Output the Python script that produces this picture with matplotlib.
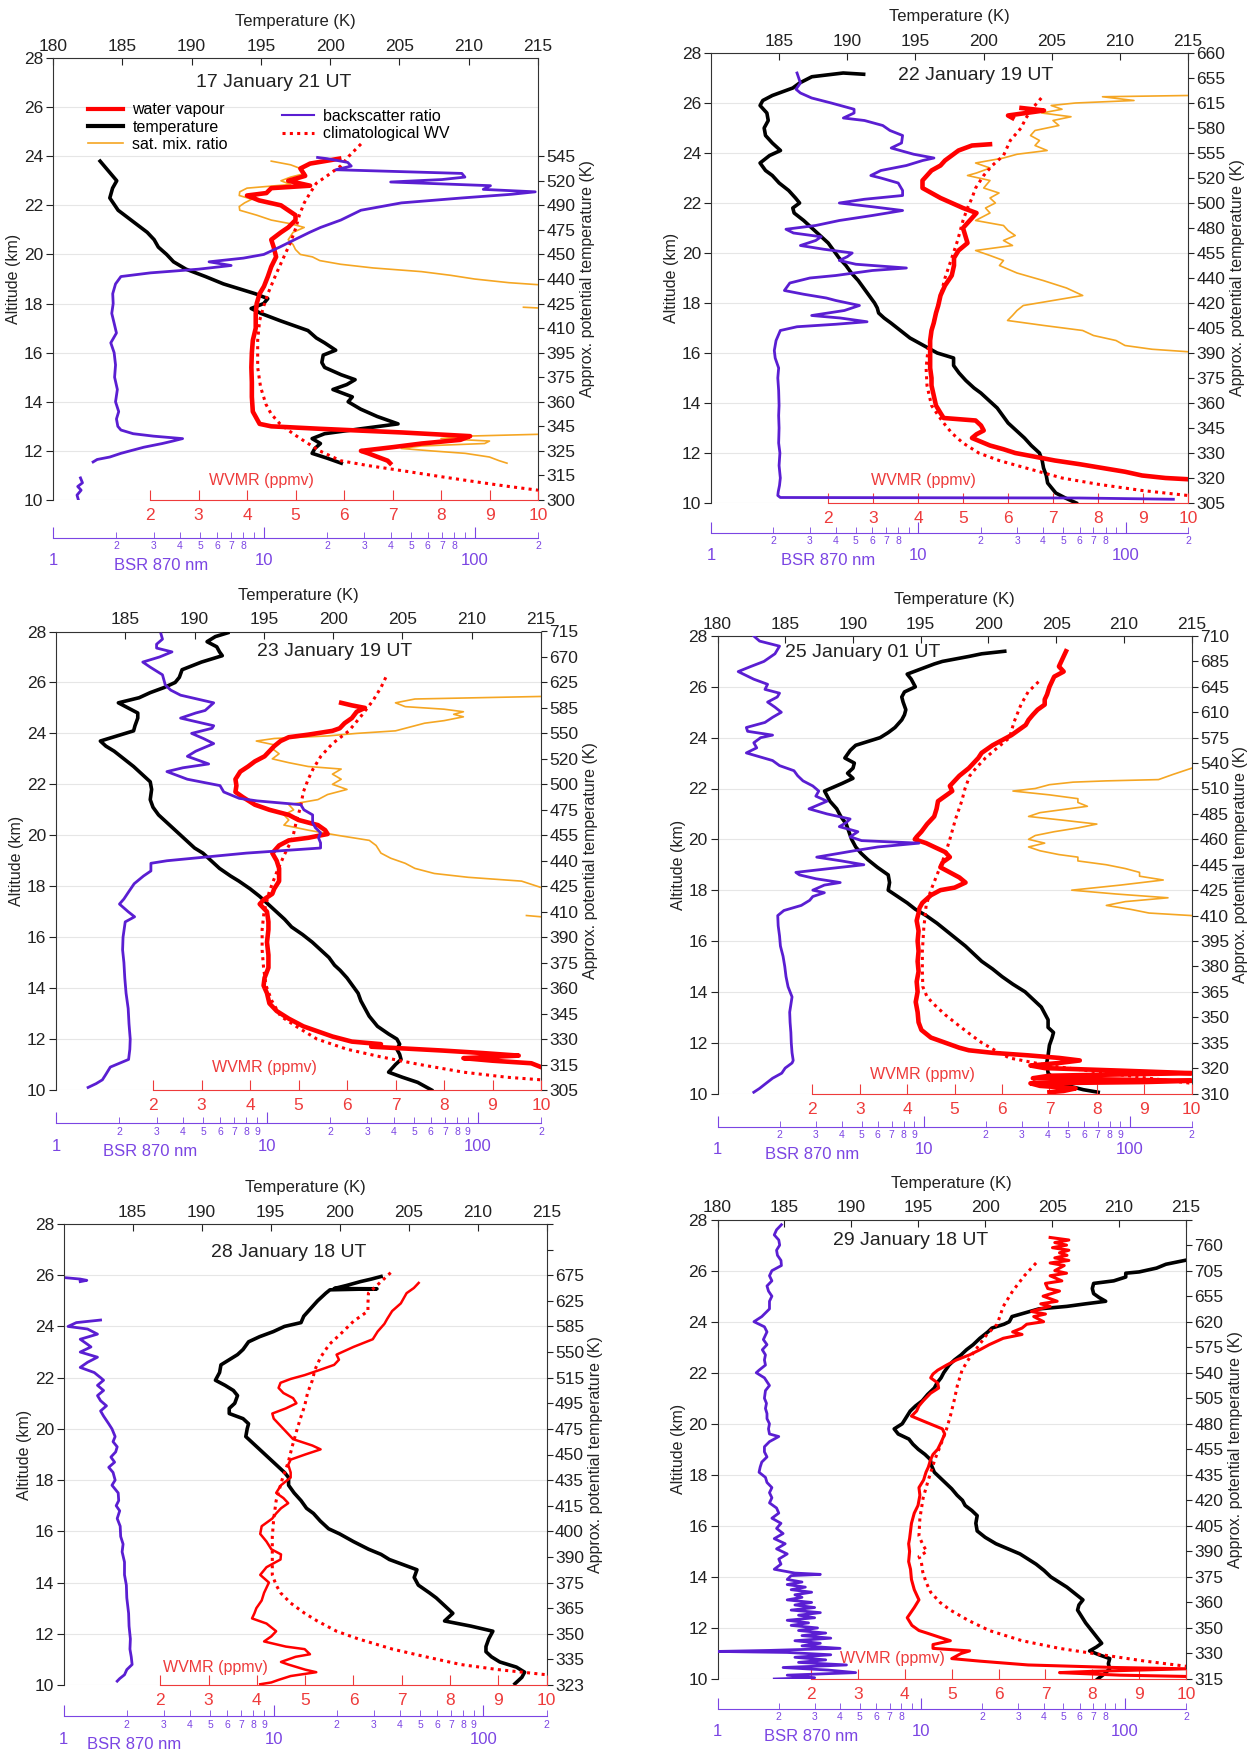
import matplotlib.pyplot as plt
from matplotlib.lines import Line2D

plt.rcParams['font.family'] = ['Liberation Sans', 'DejaVu Sans']

NA = float('nan')

# Colour palette
C_WV = '#FF0000'
C_T = '#000000'
C_SAT = '#F5A623'
C_BSR = '#5A1ED2'
C_BSR_AX = '#7B45E3'
C_WV_AX = '#EE3B3B'
C_TEXT = '#222222'
C_GRID = '#E6E6E6'

# ---------------- data: (altitude km, value) ----------------
# 17 January 21 UT
p1_temp = [(23.8, 183.4), (23.4, 184.0), (23.0, 184.6), (22.7, 184.3), (22.3, 184.1), (21.8, 184.7),
           (21.5, 185.4), (21.2, 186.1), (20.9, 186.8), (20.6, 187.3), (20.3, 187.6), (20.0, 188.2),
           (19.7, 188.7), (19.4, 189.6), (19.1, 191.0), (18.8, 192.3), (18.4, 194.6), (18.2, 195.5),
           (18.0, 195.2), (17.8, 194.3), (17.6, 195.0), (17.3, 196.4), (16.9, 198.4), (16.6, 199.0),
           (16.4, 199.6), (16.1, 200.4), (15.9, 199.5), (15.6, 199.4), (15.4, 199.6), (15.1, 200.8),
           (14.9, 201.8), (14.7, 201.2), (14.5, 200.2), (14.2, 201.6), (14.0, 201.3), (13.7, 202.2),
           (13.4, 203.4), (13.1, 204.9), (12.9, 202.2), (12.7, 199.6), (12.5, 198.7), (12.3, 199.3),
           (12.1, 198.9), (11.9, 198.7), (11.7, 199.8), (11.5, 200.8)]
p1_wv = [(23.9, 5.9), (23.7, 5.3), (23.5, 5.1), (23.2, 5.2), (23.0, 4.85), (22.8, 5.3), (22.7, 4.5),
         (22.5, 4.4), (22.4, 4.0), (22.2, 4.25), (22.0, 4.7), (21.8, 4.85), (21.6, 5.0), (21.4, 5.0),
         (21.1, 4.85), (20.9, 4.7), (20.6, 4.5), (20.3, 4.55), (19.9, 4.6), (19.5, 4.5), (19.1, 4.43),
         (18.7, 4.35), (18.4, 4.26), (18.0, 4.2), (17.6, 4.18), (17.0, 4.18), (16.5, 4.12), (16.0, 4.1),
         (15.4, 4.09), (14.8, 4.1), (14.2, 4.1), (13.6, 4.12), (13.1, 4.26), (13.0, 4.5), (12.9, 5.5),
         (12.75, 7.2), (12.6, 8.6), (12.45, 8.4), (12.3, 7.6), (12.15, 7.0), (12.0, 6.35), (11.9, 6.5),
         (11.75, 6.7), (11.6, 6.9), (11.5, 6.95)]
p1_clim = [(24.5, 6.35), (24.0, 6.1), (23.6, 5.93), (23.2, 5.65), (22.9, 5.43), (22.5, 5.3), (22.1, 5.18),
           (21.6, 5.08), (21.1, 5.01), (20.5, 4.9), (19.9, 4.76), (19.2, 4.6), (18.4, 4.43), (17.8, 4.33),
           (17.3, 4.26), (16.5, 4.22), (15.4, 4.22), (14.6, 4.28), (13.9, 4.39), (13.5, 4.5), (13.1, 4.68),
           (12.7, 4.95), (12.4, 5.18), (12.0, 5.5), (11.6, 5.93), (11.4, 6.5), (11.2, 7.18), (10.95, 8.0),
           (10.7, 8.86), (10.55, 9.4), (10.4, 10.0)]
p1_sat = [(23.8, 4.5), (23.65, 4.9), (23.5, 5.1), (23.3, 5.2), (23.15, 4.9), (23.0, 4.7), (22.85, 4.9),
          (22.7, 4.0), (22.55, 3.85), (22.4, 3.84), (22.25, 4.1), (22.1, 3.95), (21.95, 3.84), (21.8, 3.85),
          (21.6, 4.2), (21.4, 4.5), (21.25, 4.9), (21.1, 5.18), (20.9, 4.95), (20.6, 4.85), (20.4, 4.95),
          (20.2, 5.0), (20.0, 5.1), (19.9, 5.35), (19.75, 5.5), (19.6, 5.93), (19.45, 6.6), (19.3, 7.6),
          (19.15, 8.2), (19.0, 8.69), (18.85, 9.4), (18.7, 10.5), (NA, NA), (17.85, 9.7), (17.8, 10.2),
          (NA, NA), (12.7, 10.5), (12.6, 8.5), (12.5, 8.0), (12.4, 9.0), (12.3, 8.9), (12.2, 7.6),
          (12.1, 7.18), (12.0, 7.8), (11.9, 8.5), (11.75, 9.0), (11.6, 9.2), (11.5, 9.36)]
p1_bsr = [(10.0, 1.32), (10.2, 1.30), (10.4, 1.36), (10.55, 1.31), (10.7, 1.38), (10.9, 1.35), (NA, NA),
          (11.55, 1.55), (11.65, 1.62), (11.75, 1.86), (11.9, 2.1), (12.0, 2.32), (12.15, 2.7), (12.3, 3.3),
          (12.4, 3.7), (12.5, 4.12), (12.6, 3.0), (12.7, 2.4), (12.85, 2.1), (13.0, 2.03), (13.3, 2.0),
          (13.6, 2.05), (14.0, 1.98), (14.5, 2.02), (15.0, 1.96), (15.5, 1.98), (16.0, 1.95), (16.4, 1.88),
          (16.8, 2.0), (17.2, 1.95), (17.6, 1.9), (18.0, 1.93), (18.4, 1.92), (18.8, 1.98), (19.1, 2.1),
          (19.25, 2.9), (19.4, 4.9), (19.55, 7.0), (19.7, 5.5), (19.85, 8.0), (20.0, 10.0), (20.3, 11.9),
          (20.6, 14.0), (20.9, 16.5), (21.1, 18.6), (21.4, 23.2), (21.8, 28.9), (22.1, 45), (22.3, 87),
          (22.45, 150), (22.55, 194), (22.65, 110), (22.8, 119), (22.95, 40), (23.05, 70), (23.15, 90),
          (23.3, 87), (23.45, 22), (23.6, 26), (23.75, 25), (23.9, 20), (23.95, 18)]

# 22 January 19 UT
p2_temp = [(27.15, 191.2), (27.2, 189.7), (27.05, 187.4), (26.8, 186.5), (26.6, 186.0), (26.3, 184.5),
           (26.1, 183.8), (25.9, 183.6), (25.6, 184.1), (25.3, 184.2), (25.0, 183.9), (24.7, 184.0),
           (24.4, 184.5), (24.1, 185.1), (23.9, 184.3), (23.6, 183.6), (23.3, 184.0), (23.1, 184.5),
           (22.8, 185.0), (22.5, 185.7), (22.2, 186.2), (22.0, 186.5), (21.8, 186.0), (21.6, 186.1),
           (21.3, 186.8), (21.0, 187.4), (20.7, 188.0), (20.4, 188.6), (20.1, 189.0), (19.8, 189.4),
           (19.5, 189.9), (19.2, 190.3), (18.9, 190.8), (18.6, 191.2), (18.3, 191.6), (18.0, 192.0),
           (17.8, 192.2), (17.6, 192.3), (17.4, 192.7), (17.2, 193.2), (16.9, 193.9), (16.6, 194.6),
           (16.3, 195.6), (16.0, 196.6), (15.8, 197.8), (15.5, 197.8), (15.2, 198.2), (14.9, 198.7),
           (14.6, 199.3), (14.4, 199.8), (14.1, 200.4), (13.8, 201.0), (13.5, 201.4), (13.2, 201.8),
           (12.9, 202.4), (12.6, 203.0), (12.3, 203.5), (12.0, 204.1), (11.7, 204.3), (11.4, 204.4),
           (11.1, 204.6), (10.8, 204.7), (10.6, 205.0), (10.4, 205.3), (10.2, 206.0), (10.0, 206.8)]
p2_wv = [(25.8, 6.3), (25.7, 6.8), (25.6, 6.4), (25.5, 6.0), (25.4, 6.1), (NA, NA), (24.35, 5.6),
         (24.3, 5.2), (24.1, 4.9), (23.9, 4.75), (23.7, 4.6), (23.5, 4.5), (23.3, 4.3), (23.1, 4.2),
         (22.9, 4.1), (22.6, 4.1), (22.4, 4.3), (22.2, 4.5), (22.0, 4.75), (21.8, 5.0), (21.6, 5.3),
         (21.4, 5.2), (21.2, 5.1), (21.0, 5.0), (20.7, 5.05), (20.4, 5.1), (20.1, 4.9), (19.8, 4.8),
         (19.5, 4.8), (19.1, 4.75), (18.7, 4.6), (18.3, 4.5), (17.9, 4.45), (17.6, 4.4), (17.2, 4.35),
         (16.9, 4.3), (16.5, 4.27), (16.1, 4.27), (15.7, 4.27), (15.4, 4.27), (15.0, 4.3), (14.7, 4.3),
         (14.3, 4.35), (13.9, 4.4), (13.6, 4.5), (13.4, 4.57), (13.3, 5.28), (13.1, 5.4), (12.9, 5.46),
         (12.75, 5.3), (12.6, 5.2), (12.45, 5.4), (12.3, 5.6), (12.15, 5.9), (12.0, 6.16), (11.85, 6.6),
         (11.7, 7.04), (11.55, 7.6), (11.4, 8.1), (11.25, 8.6), (11.1, 8.98), (11.0, 9.5), (10.95, 10.0)]
p2_clim = [(26.2, 6.74), (25.8, 6.55), (25.4, 6.4), (25.0, 6.29), (24.5, 6.05), (23.9, 5.9), (23.5, 5.65),
           (23.1, 5.46), (22.6, 5.28), (22.2, 5.2), (21.8, 5.1), (21.3, 5.0), (20.5, 4.88), (19.8, 4.75),
           (19.0, 4.6), (18.3, 4.5), (17.6, 4.4), (16.9, 4.3), (16.1, 4.22), (15.4, 4.18), (14.7, 4.2),
           (13.9, 4.3), (13.5, 4.45), (13.2, 4.57), (12.8, 4.75), (12.4, 5.0), (12.0, 5.35), (11.7, 5.8),
           (11.4, 6.4), (11.0, 7.2), (10.75, 8.0), (10.5, 8.98), (10.3, 10.0)]
p2_sat = [(26.3, 10.0), (26.25, 8.1), (26.1, 8.8), (26.0, 7.5), (25.9, 6.96), (25.75, 7.2), (25.6, 6.75),
          (25.45, 7.4), (25.3, 7.0), (25.1, 7.13), (24.9, 6.6), (24.7, 6.5), (24.5, 6.7), (24.3, 6.6),
          (24.1, 6.87), (23.95, 6.2), (23.8, 5.9), (23.6, 5.28), (23.4, 5.6), (23.2, 5.3), (23.1, 5.1),
          (22.9, 5.6), (22.6, 5.46), (22.4, 5.8), (22.2, 5.6), (22.0, 5.72), (21.8, 5.5), (21.6, 5.6),
          (21.3, 5.28), (21.1, 5.9), (20.9, 6.0), (20.7, 6.16), (20.5, 5.9), (20.3, 6.1), (20.1, 5.28),
          (19.9, 5.6), (19.7, 5.9), (19.5, 5.81), (19.2, 6.2), (18.9, 6.78), (18.6, 7.3), (18.3, 7.66),
          (18.1, 7.0), (17.9, 6.34), (17.7, 6.2), (17.5, 6.1), (17.3, 5.99), (17.1, 6.8), (16.9, 7.66),
          (16.7, 7.9), (16.5, 8.4), (16.3, 8.6), (16.15, 9.2), (16.05, 10.0)]
p2_bsr = [(10.15, 170), (10.2, 60), (10.22, 2.16), (10.3, 2.1), (10.45, 2.11), (10.7, 2.14), (11.0, 2.16),
          (11.5, 2.13), (12.0, 2.15), (12.4, 2.12), (13.0, 2.13), (13.5, 2.12), (13.9, 2.13), (14.5, 2.12),
          (15.0, 2.1), (15.4, 2.12), (15.8, 2.04), (16.1, 2.02), (16.5, 2.06), (16.9, 2.16), (17.05, 2.6),
          (17.15, 4.0), (17.25, 5.66), (17.4, 4.2), (17.5, 3.06), (17.7, 4.4), (17.9, 5.2), (18.1, 4.0),
          (18.2, 3.6), (18.35, 2.8), (18.5, 2.26), (18.8, 2.4), (19.0, 3.0), (19.1, 4.0), (19.3, 6.0),
          (19.4, 8.76), (19.55, 5.0), (19.7, 4.16), (19.85, 4.54), (20.0, 4.8), (20.15, 3.5), (20.3, 2.7),
          (20.5, 3.2), (20.65, 3.4), (20.8, 2.5), (20.95, 2.3), (21.1, 3.2), (21.3, 4.16), (21.5, 6.0),
          (21.7, 8.4), (21.85, 6.0), (22.0, 4.16), (22.15, 5.5), (22.3, 8.4), (22.5, 8.4), (22.8, 8.0),
          (23.0, 6.6), (23.1, 5.9), (23.3, 6.6), (23.5, 8.76), (23.7, 10.5), (23.8, 11.9), (23.95, 9.5),
          (24.2, 7.4), (24.4, 8.3), (24.7, 8.4), (24.9, 7.3), (25.1, 6.74), (25.3, 5.5), (25.4, 4.35),
          (25.6, 4.9), (25.75, 4.9), (26.0, 3.8), (26.2, 3.06), (26.4, 2.7), (26.55, 2.57), (26.8, 2.7),
          (27.0, 2.65), (27.2, 2.6)]

# 23 January 19 UT
p3_temp = [(27.95, 192.4), (27.8, 191.5), (27.6, 190.9), (27.4, 191.6), (27.2, 191.8), (27.05, 192.0),
           (26.8, 190.5), (26.5, 189.1), (26.2, 188.9), (26.0, 188.6), (25.8, 187.8), (25.6, 186.8),
           (25.4, 186.0), (25.2, 184.5), (25.0, 185.2), (24.8, 185.9), (24.6, 185.9), (24.3, 185.7),
           (24.1, 185.6), (23.9, 184.4), (23.7, 183.2), (23.5, 183.6), (23.3, 184.2), (23.0, 184.9),
           (22.7, 185.6), (22.4, 186.2), (22.1, 186.8), (21.8, 186.9), (21.4, 186.8), (21.1, 187.0),
           (20.8, 187.4), (20.5, 188.0), (20.2, 188.6), (19.8, 189.4), (19.5, 190.0), (19.3, 190.6),
           (19.0, 191.2), (18.7, 191.8), (18.4, 192.6), (18.2, 193.2), (17.9, 194.0), (17.6, 194.7),
           (17.3, 195.3), (17.0, 195.9), (16.7, 196.5), (16.4, 197.0), (16.1, 197.8), (15.8, 198.5),
           (15.5, 199.1), (15.2, 199.7), (14.9, 200.1), (14.7, 200.5), (14.4, 201.0), (14.1, 201.4),
           (13.8, 201.8), (13.5, 202.0), (13.2, 202.3), (12.9, 202.6), (12.5, 203.2), (12.2, 204.0),
           (12.0, 204.6), (11.8, 204.8), (11.6, 204.6), (11.4, 204.8), (11.2, 204.9), (11.0, 204.5),
           (10.7, 204.0), (10.5, 205.0), (10.3, 206.1), (10.0, 207.1)]
p3_wv = [(25.2, 5.88), (25.1, 6.1), (25.0, 6.37), (24.85, 6.2), (24.6, 6.1), (24.4, 5.95), (24.2, 5.85),
         (24.1, 5.7), (23.95, 5.2), (23.85, 4.8), (23.7, 4.63), (23.5, 4.5), (23.3, 4.4), (23.1, 4.3),
         (22.9, 4.1), (22.7, 3.96), (22.5, 3.8), (22.2, 3.7), (21.95, 3.72), (21.7, 3.7), (21.5, 3.85),
         (21.2, 4.1), (21.0, 4.4), (20.8, 4.8), (20.6, 5.0), (20.4, 5.4), (20.2, 5.55), (20.05, 5.6),
         (19.9, 5.2), (19.8, 4.8), (19.6, 4.6), (19.3, 4.46), (19.0, 4.55), (18.7, 4.6), (18.5, 4.6),
         (18.2, 4.6), (17.9, 4.5), (17.7, 4.46), (17.5, 4.3), (17.3, 4.2), (17.0, 4.35), (16.6, 4.38),
         (16.3, 4.38), (15.8, 4.35), (15.3, 4.38), (14.8, 4.38), (14.4, 4.3), (14.1, 4.28), (13.8, 4.35),
         (13.4, 4.4), (13.1, 4.55), (12.8, 4.8), (12.5, 5.1), (12.3, 5.4), (12.1, 5.7), (11.9, 6.1),
         (11.8, 6.7), (11.7, 6.5), (11.55, 7.96), (11.45, 8.8), (11.35, 9.54), (11.25, 8.4), (11.15, 9.0),
         (11.05, 9.8), (10.9, 10.0)]
p3_clim = [(26.2, 6.8), (25.8, 6.7), (25.3, 6.54), (24.7, 6.3), (24.1, 6.04), (23.6, 5.7), (23.1, 5.46),
           (22.6, 5.3), (22.2, 5.2), (21.7, 5.1), (21.1, 5.04), (20.5, 4.95), (19.9, 4.88), (19.2, 4.7),
           (18.5, 4.54), (17.8, 4.4), (17.0, 4.29), (16.3, 4.25), (15.5, 4.25), (14.8, 4.28), (14.1, 4.33),
           (13.5, 4.45), (12.9, 4.63), (12.5, 4.95), (12.0, 5.38), (11.6, 6.0), (11.3, 6.7), (11.0, 7.5),
           (10.7, 8.4), (10.5, 9.3), (10.4, 10.0)]
p3_sat = [(25.45, 10.0), (25.35, 7.4), (25.2, 7.0), (25.05, 7.2), (24.95, 8.0), (24.85, 8.4), (24.75, 8.2),
          (24.65, 8.4), (24.5, 8.0), (24.4, 7.6), (24.25, 7.3), (24.1, 7.0), (24.0, 6.2), (23.9, 5.6),
          (23.8, 4.5), (23.7, 4.13), (23.55, 4.5), (23.4, 4.46), (23.2, 4.6), (23.0, 4.46), (22.85, 4.8),
          (22.7, 5.2), (22.6, 5.88), (22.4, 5.7), (22.2, 5.88), (22.0, 5.7), (21.8, 6.0), (21.6, 5.6),
          (21.4, 5.4), (21.2, 4.8), (21.0, 4.9), (20.8, 4.7), (20.6, 4.8), (20.4, 4.7), (20.2, 5.2),
          (20.0, 5.8), (19.8, 6.46), (19.6, 6.6), (19.3, 6.7), (19.1, 6.9), (18.9, 7.2), (18.7, 7.4),
          (18.5, 7.8), (18.35, 8.5), (18.2, 9.6), (17.95, 10.0), (NA, NA), (16.85, 9.7), (16.8, 10.0)]
p3_bsr = [(10.1, 1.42), (10.25, 1.55), (10.4, 1.66), (10.6, 1.72), (10.9, 1.81), (11.05, 2.0), (11.2, 2.21),
          (11.6, 2.24), (12.0, 2.25), (12.6, 2.22), (13.2, 2.2), (13.8, 2.15), (14.4, 2.12), (15.0, 2.1),
          (15.5, 2.07), (16.0, 2.08), (16.6, 2.13), (16.8, 2.36), (17.0, 2.2), (17.3, 2.0), (17.5, 2.1),
          (17.8, 2.22), (18.1, 2.35), (18.4, 2.6), (18.6, 2.82), (18.9, 2.82), (19.0, 3.36), (19.3, 8.0),
          (19.5, 18.0), (19.7, 18.0), (19.9, 17.6), (20.1, 18.0), (20.3, 17.0), (20.5, 16.5), (20.8, 16.5),
          (21.0, 15.0), (21.2, 14.5), (21.35, 9.0), (21.45, 7.4), (21.7, 6.25), (21.95, 6.0), (22.2, 4.2),
          (22.5, 3.36), (22.65, 4.0), (22.8, 5.3), (23.1, 4.2), (23.3, 4.6), (23.6, 5.6), (23.8, 5.0),
          (24.0, 4.4), (24.2, 5.5), (24.3, 5.6), (24.6, 3.9), (24.8, 4.6), (24.9, 5.1), (25.2, 5.6),
          (25.5, 3.9), (25.7, 3.5), (25.9, 3.3), (26.3, 3.2), (26.6, 2.8), (26.8, 2.58), (27.0, 3.1),
          (27.2, 3.55), (27.35, 3.0), (27.5, 3.0), (27.7, 3.2), (27.9, 3.15)]

# 25 January 01 UT
p4_temp = [(27.4, 201.2), (27.3, 199.5), (27.2, 198.6), (27.0, 196.6), (26.9, 196.0), (26.7, 195.0),
           (26.5, 194.0), (26.3, 194.3), (26.0, 194.6), (25.8, 193.8), (25.6, 193.6), (25.4, 193.7),
           (25.1, 193.9), (24.9, 193.8), (24.7, 193.6), (24.4, 193.1), (24.2, 192.6), (24.0, 192.0),
           (23.8, 190.8), (23.7, 190.2), (23.5, 189.8), (23.2, 189.4), (23.0, 190.1), (22.8, 190.0),
           (22.6, 189.6), (22.4, 190.0), (22.2, 189.2), (21.9, 187.9), (21.7, 188.1), (21.5, 188.3),
           (21.2, 188.8), (20.9, 189.1), (20.6, 189.5), (20.3, 189.7), (20.0, 189.9), (19.7, 190.2),
           (19.45, 190.6), (19.2, 191.1), (18.9, 191.8), (18.6, 192.6), (18.3, 192.7), (18.0, 192.6),
           (17.75, 193.3), (17.5, 194.0), (17.25, 194.6), (17.0, 195.4), (16.7, 196.2), (16.4, 196.9),
           (16.1, 197.6), (15.8, 198.3), (15.5, 198.9), (15.2, 199.5), (14.9, 200.3), (14.6, 201.0),
           (14.3, 201.8), (14.0, 202.7), (13.7, 203.3), (13.4, 203.9), (13.1, 204.2), (12.9, 204.4),
           (12.6, 204.4), (12.4, 204.8), (12.2, 204.7), (11.9, 204.5), (11.5, 204.4), (11.2, 204.3),
           (10.8, 204.4), (10.5, 205.0), (10.3, 205.9), (10.15, 207.0), (10.05, 208.1)]
p4_wv = [(27.4, 7.35), (27.2, 7.3), (27.0, 7.25), (26.8, 7.2), (26.6, 7.3), (26.4, 7.1), (26.2, 7.05),
         (26.0, 7.0), (25.7, 6.95), (25.5, 6.9), (25.3, 6.9), (25.1, 6.75), (24.9, 6.65), (24.7, 6.56),
         (24.5, 6.5), (24.3, 6.35), (24.1, 6.2), (23.9, 6.0), (23.7, 5.8), (23.4, 5.57), (23.2, 5.5),
         (23.0, 5.4), (22.8, 5.3), (22.5, 5.1), (22.3, 5.0), (22.1, 4.9), (21.9, 4.95), (21.7, 4.8),
         (21.5, 4.65), (21.2, 4.62), (20.9, 4.57), (20.6, 4.42), (20.3, 4.3), (20.1, 4.2), (20.0, 4.16),
         (19.85, 4.4), (19.7, 4.57), (19.5, 4.8), (19.3, 4.9), (19.1, 4.75), (18.9, 4.7), (18.7, 4.9),
         (18.5, 5.1), (18.3, 5.23), (18.1, 5.0), (18.0, 4.7), (17.8, 4.5), (17.5, 4.32), (17.3, 4.26),
         (17.1, 4.24), (16.8, 4.2), (16.4, 4.24), (16.0, 4.22), (15.6, 4.24), (15.2, 4.22), (14.8, 4.24),
         (14.4, 4.2), (14.0, 4.22), (13.6, 4.18), (13.2, 4.22), (12.8, 4.24), (12.5, 4.3), (12.2, 4.5),
         (12.0, 4.8), (11.8, 5.1), (11.7, 5.3), (11.6, 5.8), (11.5, 6.56), (11.4, 7.2), (11.3, 7.64),
         (11.2, 7.2), (11.1, 6.6), (11.0, 6.9), (10.9, 8.5), (10.8, 10.0), (10.7, 7.0), (10.6, 6.65),
         (10.5, 10.0), (10.45, 9.0), (10.4, 6.6), (10.3, 6.8), (10.2, 7.55), (10.1, 7.3), (10.05, 7.0)]
p4_clim = [(26.2, 6.77), (25.8, 6.55), (25.3, 6.4), (24.6, 6.25), (24.0, 6.16), (23.6, 5.9), (23.2, 5.65),
           (22.8, 5.45), (22.5, 5.32), (22.0, 5.22), (21.5, 5.15), (20.8, 5.02), (20.0, 4.9), (19.4, 4.8),
           (18.7, 4.65), (18.0, 4.5), (17.4, 4.4), (16.5, 4.35), (15.6, 4.32), (14.8, 4.32), (14.2, 4.33),
           (13.8, 4.42), (13.5, 4.57), (13.1, 4.8), (12.7, 5.07), (12.3, 5.35), (12.0, 5.57), (11.7, 5.85),
           (11.4, 6.15), (11.1, 6.98), (10.95, 7.6), (10.8, 8.2), (10.6, 9.1), (10.4, 10.0)]
p4_sat = [(22.8, 10.0), (22.55, 9.6), (22.35, 9.3), (22.3, 8.2), (22.25, 7.5), (22.15, 7.0), (22.0, 6.7),
          (21.9, 6.23), (21.75, 7.0), (21.6, 7.6), (21.45, 7.6), (21.3, 7.8), (21.15, 7.2), (21.05, 6.8),
          (20.9, 6.56), (20.75, 7.3), (20.6, 8.0), (20.45, 7.6), (20.3, 7.1), (20.15, 6.7), (20.0, 6.56),
          (19.85, 6.9), (19.7, 6.56), (19.55, 6.8), (19.4, 7.2), (19.3, 7.6), (19.15, 7.6), (19.0, 8.2),
          (18.85, 8.6), (18.7, 8.9), (18.55, 8.9), (18.4, 9.4), (18.2, 8.5), (18.0, 7.47), (17.85, 8.4),
          (17.7, 9.5), (17.55, 8.6), (17.4, 8.2), (17.25, 8.7), (17.1, 9.1), (17.0, 10.0)]
p4_bsr = [(10.05, 1.5), (10.2, 1.6), (10.4, 1.72), (10.6, 1.85), (10.8, 2.05), (11.0, 2.13), (11.2, 2.3),
          (11.3, 2.33), (11.6, 2.3), (12.0, 2.28), (12.4, 2.27), (12.8, 2.25), (13.2, 2.24), (13.5, 2.27),
          (13.8, 2.3), (14.2, 2.2), (14.6, 2.15), (15.0, 2.12), (15.4, 2.08), (15.8, 2.02), (16.2, 2.0),
          (16.6, 1.97), (17.0, 1.96), (17.2, 2.1), (17.4, 2.55), (17.6, 2.8), (17.75, 2.9), (17.9, 3.3),
          (18.0, 2.9), (18.2, 3.3), (18.3, 3.94), (18.45, 3.0), (18.6, 2.5), (18.7, 2.4), (18.85, 3.5),
          (19.0, 5.13), (19.15, 4.0), (19.3, 3.03), (19.45, 3.9), (19.55, 4.6), (19.7, 6.0), (19.85, 9.5),
          (19.95, 5.0), (20.1, 4.4), (20.3, 4.8), (20.5, 3.9), (20.65, 4.2), (20.8, 4.4), (21.0, 3.4),
          (21.2, 2.78), (21.5, 3.4), (21.7, 3.0), (21.9, 3.1), (22.1, 2.9), (22.3, 2.6), (22.5, 2.45),
          (22.7, 2.35), (22.9, 2.0), (23.1, 1.85), (23.4, 1.38), (23.6, 1.55), (23.8, 1.5), (24.0, 1.62),
          (24.1, 1.85), (24.25, 1.4), (24.4, 1.38), (24.6, 1.7), (24.8, 1.85), (25.0, 2.04), (25.2, 1.9),
          (25.4, 1.75), (25.6, 1.95), (25.75, 2.0), (25.9, 1.7), (26.1, 1.75), (26.3, 1.5), (26.6, 1.26),
          (26.8, 1.45), (27.0, 1.68), (27.3, 1.9), (27.6, 2.0), (27.8, 1.6), (28.0, 1.5)]

# 28 January 18 UT
p5_temp = [(25.95, 203.0), (25.85, 202.3), (25.75, 201.5), (25.6, 200.5), (25.48, 199.6), (25.47, 202.7),
           (25.43, 199.3), (25.3, 199.0), (25.2, 198.8), (25.0, 198.4), (24.7, 197.9), (24.4, 197.4),
           (24.15, 197.2), (24.0, 196.0), (23.8, 195.2), (23.6, 194.2), (23.4, 193.4), (23.1, 193.0),
           (22.9, 192.6), (22.7, 192.0), (22.5, 191.4), (22.2, 191.3), (21.9, 191.0), (21.7, 191.7),
           (21.5, 192.3), (21.3, 192.6), (21.0, 192.4), (20.8, 192.0), (20.6, 192.0), (20.4, 193.0),
           (20.2, 193.4), (20.0, 193.3), (19.7, 193.2), (19.5, 193.6), (19.3, 194.0), (19.0, 194.6),
           (18.7, 195.2), (18.5, 195.6), (18.3, 196.0), (18.1, 196.3), (17.8, 196.3), (17.5, 196.7),
           (17.2, 197.2), (16.9, 197.6), (16.7, 198.1), (16.4, 198.6), (16.1, 199.2), (15.9, 200.0),
           (15.6, 201.0), (15.3, 202.1), (15.1, 203.0), (14.9, 203.6), (14.7, 204.6), (14.5, 205.6),
           (14.2, 205.4), (13.9, 205.7), (13.6, 206.5), (13.4, 207.0), (13.1, 207.6), (12.8, 208.2),
           (12.5, 207.6), (12.3, 209.5), (12.1, 211.1), (11.8, 210.8), (11.5, 210.6), (11.3, 210.6),
           (11.1, 211.0), (10.9, 211.6), (10.7, 212.8), (10.5, 213.4), (10.3, 213.2), (10.1, 212.8),
           (10.05, 212.7)]
p5_wv = [(25.7, 7.35), (25.5, 7.25), (25.3, 7.1), (24.9, 6.98), (24.6, 6.8), (24.3, 6.7), (24.1, 6.64),
         (23.8, 6.5), (23.5, 6.4), (23.2, 6.0), (22.9, 5.65), (22.7, 5.7), (22.5, 5.6), (22.3, 5.3),
         (22.1, 4.99), (21.95, 4.7), (21.8, 4.49), (21.6, 4.45), (21.4, 4.55), (21.2, 4.75), (21.0, 4.82),
         (20.8, 4.6), (20.6, 4.32), (20.4, 4.35), (20.2, 4.45), (19.9, 4.6), (19.6, 4.75), (19.35, 5.15),
         (19.2, 5.32), (19.0, 5.0), (18.8, 4.7), (18.6, 4.65), (18.3, 4.7), (18.1, 4.7), (17.8, 4.5),
         (17.5, 4.4), (17.3, 4.55), (17.1, 4.65), (16.9, 4.5), (16.7, 4.4), (16.5, 4.32), (16.2, 4.1),
         (15.9, 4.07), (15.6, 4.2), (15.3, 4.3), (15.1, 4.5), (14.9, 4.49), (14.6, 4.2), (14.3, 4.07),
         (14.0, 4.25), (13.8, 4.2), (13.6, 4.15), (13.3, 4.1), (13.0, 3.99), (12.8, 3.95), (12.6, 3.9),
         (12.4, 4.2), (12.1, 4.4), (11.9, 4.3), (11.7, 4.15), (11.5, 4.6), (11.4, 4.99), (11.2, 5.1),
         (11.1, 4.8), (10.9, 4.5), (10.8, 4.65), (10.6, 5.0), (10.5, 5.23), (10.35, 4.7), (10.2, 4.45),
         (10.1, 4.3), (10.03, 4.07)]
p5_clim = [(26.1, 6.77), (25.8, 6.6), (25.3, 6.31), (24.9, 6.3), (24.6, 6.3), (24.2, 6.0), (23.7, 5.73),
           (23.3, 5.5), (22.8, 5.32), (22.3, 5.2), (21.9, 5.15), (21.4, 5.05), (20.9, 4.99), (20.4, 4.9),
           (19.9, 4.82), (19.3, 4.73), (18.7, 4.65), (18.0, 4.52), (17.2, 4.4), (16.5, 4.35), (15.8, 4.32),
           (15.0, 4.32), (14.3, 4.32), (13.9, 4.4), (13.6, 4.49), (13.2, 4.7), (12.8, 4.99), (12.5, 5.25),
           (12.1, 5.65), (11.8, 6.1), (11.4, 6.81), (11.1, 7.5), (10.8, 8.22), (10.6, 9.0), (10.4, 10.0)]
p5_sat = []
p5_bsr = [(25.9, 1.03), (25.85, 1.2), (25.8, 1.29), (25.75, 1.2), (NA, NA), (24.25, 1.5), (24.15, 1.15),
          (24.0, 1.05), (23.9, 1.3), (23.7, 1.45), (23.5, 1.2), (23.3, 1.3), (23.2, 1.35), (23.0, 1.2),
          (22.8, 1.45), (22.6, 1.3), (22.4, 1.2), (22.2, 1.4), (22.0, 1.5), (21.9, 1.55), (21.7, 1.45),
          (21.5, 1.55), (21.3, 1.45), (21.1, 1.5), (20.9, 1.6), (20.7, 1.5), (20.5, 1.55), (20.2, 1.64),
          (20.0, 1.7), (19.7, 1.76), (19.5, 1.72), (19.3, 1.8), (19.1, 1.77), (18.9, 1.68), (18.7, 1.75),
          (18.5, 1.64), (18.3, 1.72), (18.0, 1.76), (17.8, 1.7), (17.5, 1.82), (17.2, 1.83), (17.0, 1.78),
          (16.8, 1.85), (16.5, 1.8), (16.2, 1.86), (15.8, 1.87), (15.5, 1.92), (15.2, 1.9), (14.8, 1.95),
          (14.3, 1.95), (13.9, 1.99), (13.4, 2.0), (12.8, 2.04), (12.3, 2.05), (11.8, 2.08), (11.4, 2.07),
          (11.1, 2.1), (10.8, 2.12), (10.6, 2.0), (10.4, 1.95), (10.25, 1.85), (10.15, 1.8)]

# 29 January 18 UT
p6_temp = [(26.4, 214.9), (26.25, 213.5), (26.1, 212.8), (25.95, 211.5), (25.9, 210.5), (25.75, 210.5),
           (25.6, 209.6), (25.5, 208.1), (25.3, 208.0), (25.1, 208.1), (24.95, 208.5), (24.8, 209.0),
           (24.7, 207.5), (24.6, 206.1), (24.5, 204.0), (24.35, 203.0), (24.2, 202.0), (24.0, 201.8),
           (23.9, 201.4), (23.75, 200.5), (23.6, 200.2), (23.35, 199.6), (23.1, 199.1), (22.9, 198.6),
           (22.7, 198.2), (22.5, 197.7), (22.3, 197.3), (22.0, 196.9), (21.8, 196.7), (21.6, 196.4),
           (21.4, 196.2), (21.15, 195.7), (20.9, 195.3), (20.7, 194.8), (20.5, 194.4), (20.25, 194.1),
           (20.0, 193.8), (19.8, 193.2), (19.6, 193.5), (19.4, 194.3), (19.2, 194.6), (19.0, 195.0),
           (18.8, 195.5), (18.6, 195.9), (18.35, 196.0), (18.1, 196.2), (17.9, 196.6), (17.7, 197.0),
           (17.45, 197.5), (17.2, 197.9), (17.0, 198.3), (16.8, 198.5), (16.6, 199.0), (16.4, 199.4),
           (16.1, 199.3), (15.8, 199.4), (15.55, 200.0), (15.3, 200.8), (15.1, 201.7), (14.9, 202.6),
           (14.7, 203.2), (14.5, 203.8), (14.25, 204.4), (14.0, 204.9), (13.8, 205.5), (13.6, 206.1),
           (13.35, 206.7), (13.1, 207.3), (12.9, 207.0), (12.7, 206.9), (12.45, 207.2), (12.2, 207.5),
           (12.0, 207.8), (11.8, 208.1), (11.6, 208.4), (11.4, 208.7), (11.25, 208.3), (11.1, 207.8),
           (10.95, 208.5), (10.8, 209.3), (10.6, 209.2), (10.4, 209.3), (10.2, 208.9), (10.0, 208.4)]
p6_wv = [(27.3, 7.1), (27.2, 7.5), (27.1, 7.2), (27.0, 7.45), (26.9, 7.15), (26.8, 7.5), (26.7, 7.3),
         (26.6, 7.46), (26.5, 7.2), (26.4, 7.5), (26.3, 7.1), (26.2, 7.4), (26.0, 7.2), (25.9, 7.45),
         (25.8, 7.1), (25.6, 7.35), (25.5, 7.0), (25.3, 7.05), (25.2, 7.3), (25.0, 6.95), (24.8, 7.25),
         (24.7, 6.9), (24.6, 7.1), (24.5, 6.88), (24.4, 6.7), (24.3, 7.0), (24.2, 6.75), (24.0, 6.96),
         (23.9, 6.6), (23.75, 6.5), (23.6, 6.3), (23.5, 6.5), (23.35, 6.1), (23.1, 5.8), (22.9, 5.6),
         (22.7, 5.38), (22.5, 5.1), (22.3, 4.89), (22.1, 4.7), (21.95, 4.6), (21.8, 4.55), (21.6, 4.7),
         (21.4, 4.72), (21.2, 4.55), (20.9, 4.39), (20.7, 4.3), (20.5, 4.25), (20.3, 4.14), (20.1, 4.4),
         (19.95, 4.6), (19.8, 4.8), (19.6, 4.85), (19.3, 4.78), (19.0, 4.7), (18.8, 4.6), (18.6, 4.55),
         (18.3, 4.5), (18.1, 4.45), (17.8, 4.4), (17.5, 4.3), (17.2, 4.32), (16.8, 4.28), (16.5, 4.2),
         (16.1, 4.14), (15.8, 4.12), (15.5, 4.1), (15.3, 4.08), (15.0, 4.1), (14.6, 4.08), (14.3, 4.12),
         (13.9, 4.14), (13.5, 4.2), (13.1, 4.3), (12.8, 4.2), (12.4, 4.05), (12.1, 4.15), (11.9, 4.3),
         (11.8, 4.47), (11.6, 4.8), (11.5, 4.97), (11.35, 4.6), (11.2, 4.6), (11.1, 5.38), (11.0, 5.2),
         (10.8, 5.0), (10.7, 5.6), (10.55, 6.63), (10.45, 8.5), (10.4, 10.0), (10.3, 8.0), (10.25, 7.3),
         (10.15, 8.6), (10.1, 10.0)]
p6_clim = [(26.3, 6.8), (25.8, 6.55), (25.2, 6.3), (24.6, 6.1), (23.9, 5.97), (23.5, 5.75), (23.0, 5.55),
           (22.5, 5.35), (22.1, 5.22), (21.5, 5.12), (20.9, 5.05), (20.3, 4.97), (19.8, 4.89), (19.2, 4.77),
           (18.6, 4.64), (17.8, 4.5), (17.1, 4.39), (16.3, 4.32), (15.6, 4.3), (15.2, 4.4), (15.0, 4.47),
           (14.8, 4.3), (14.6, 4.35), (14.2, 4.38), (13.8, 4.45), (13.4, 4.55), (13.0, 4.75), (12.7, 4.97),
           (12.3, 5.35), (11.9, 5.8), (11.5, 6.5), (11.2, 7.3), (10.95, 8.2), (10.7, 9.13), (10.5, 10.0)]
p6_sat = []
p6_bsr = [(27.8, 2.06), (27.6, 1.95), (27.4, 1.9), (27.2, 2.0), (27.0, 2.02), (26.8, 1.95), (26.6, 1.97),
          (26.4, 2.05), (26.2, 2.06), (26.0, 1.85), (25.8, 1.8), (25.6, 1.85), (25.4, 1.75), (25.2, 1.78),
          (25.0, 1.85), (24.8, 1.8), (24.5, 1.8), (24.2, 1.65), (24.0, 1.51), (23.8, 1.7), (23.6, 1.75),
          (23.3, 1.68), (23.1, 1.75), (22.9, 1.66), (22.7, 1.72), (22.5, 1.7), (22.3, 1.72), (22.1, 1.6),
          (22.0, 1.55), (21.8, 1.7), (21.5, 1.8), (21.3, 1.72), (21.0, 1.7), (20.8, 1.74), (20.6, 1.72),
          (20.4, 1.75), (20.2, 1.75), (20.0, 1.8), (19.8, 1.78), (19.6, 1.8), (19.5, 2.0), (19.3, 1.8),
          (19.1, 1.7), (18.9, 1.7), (18.7, 1.75), (18.5, 1.65), (18.3, 1.62), (18.1, 1.6), (17.9, 1.72),
          (17.7, 1.75), (17.5, 1.85), (17.3, 1.8), (17.1, 1.85), (16.9, 1.8), (16.7, 1.95), (16.5, 2.0),
          (16.3, 1.85), (16.1, 2.05), (15.9, 1.95), (15.7, 2.1), (15.5, 1.9), (15.3, 2.15), (15.1, 1.95),
          (14.9, 2.2), (14.7, 2.0), (14.5, 2.05), (14.3, 1.9), (14.15, 2.4), (14.1, 3.2), (14.05, 2.3),
          (13.9, 2.2), (13.8, 2.6), (13.7, 2.2), (13.6, 2.7), (13.5, 2.3), (13.4, 2.9), (13.3, 2.4),
          (13.2, 2.6), (13.1, 2.2), (13.0, 2.9), (12.9, 2.4), (12.8, 3.0), (12.7, 2.3), (12.6, 3.2),
          (12.5, 2.5), (12.4, 3.0), (12.3, 2.2), (12.2, 2.8), (12.1, 2.3), (12.0, 3.1), (11.9, 2.5),
          (11.8, 3.4), (11.7, 2.6), (11.6, 3.6), (11.5, 2.4), (11.4, 3.2), (11.3, 2.6), (11.2, 4.0),
          (11.12, 1.8), (11.08, 1.0), (11.04, 2.2), (10.95, 3.6), (10.85, 2.4), (10.75, 3.4), (10.65, 2.5),
          (10.55, 4.3), (10.45, 2.1), (10.35, 3.5), (10.25, 4.77), (10.15, 2.2), (10.05, 3.0), (10.0, 1.9)]

# potential temperature labels on the right axis, one per km from 10 km upward
p1_theta = [300, 315, 325, 345, 360, 375, 395, 410, 425, 440, 450, 475, 490, 520, 545]
p2_theta = [305, 320, 330, 345, 360, 375, 390, 405, 420, 440, 455, 480, 500, 520, 555, 580, 615, 655, 660]
p3_theta = [305, 315, 330, 345, 360, 375, 390, 410, 425, 440, 455, 475, 500, 520, 550, 585, 625, 670, 715]
p4_theta = [310, 320, 335, 350, 365, 380, 395, 410, 425, 445, 460, 485, 510, 540, 575, 610, 645, 685, 710]
p5_theta = [323, 335, 350, 365, 375, 390, 400, 415, 435, 450, 475, 495, 515, 550, 585, 625, 675, '', '']
p6_theta = [315, 330, 350, 360, 375, 390, 405, 420, 435, 455, 480, 505, 540, 575, 620, 655, 705, 760, '']

titles = ['17 January 21 UT', '22 January 19 UT', '23 January 19 UT',
          '25 January 01 UT', '28 January 18 UT', '29 January 18 UT']


def split(pairs):
    return [p[0] for p in pairs], [p[1] for p in pairs]


def draw_panel(fig, box, temp, wv, clim, sat, bsr, theta, title, title_xy, top_ticks,
               wv_left, wvmr_xy, bsr_off, bsr_lab_x, digits, wv_lw):
    x0, y0, x1, y1 = box
    ax = fig.add_axes([x0 / 1253, 1 - y1 / 1750, (x1 - x0) / 1253, (y1 - y0) / 1750])
    ax.set_xlim(180, 215)
    ax.set_ylim(10, 28)

    # twins first: twiny() moves the host's x ticks to the bottom
    axr = ax.twinx()
    axw = ax.twiny()
    axb = ax.twiny()

    # temperature (top) and altitude (left)
    ax.xaxis.tick_top()
    ax.xaxis.set_label_position('top')
    ax.set_xticks(top_ticks)
    ax.set_xlabel('Temperature (K)', fontsize=12, labelpad=9, color=C_TEXT)
    ax.set_yticks(range(10, 29, 2))
    ax.set_ylabel('Altitude (km)', fontsize=11.5, labelpad=2, color=C_TEXT)
    ax.tick_params(axis='x', direction='in', length=5, pad=3, labelsize=12.5, colors=C_TEXT)
    ax.tick_params(axis='y', direction='out', length=5, pad=2, labelsize=12.5, colors=C_TEXT)
    ax.spines['bottom'].set_visible(False)
    for s in ('left', 'top', 'right'):
        ax.spines[s].set_color('#333333')
    ax.grid(axis='y', color=C_GRID, lw=0.8)
    ty, tv = split(temp)
    ax.plot(tv, ty, color=C_T, lw=2.6, zorder=3)
    ax.text(title_xy[0], title_xy[1], title, ha='center', va='center', fontsize=14, color=C_TEXT)

    # right axis: approximate potential temperature
    axr.set_ylim(10, 28)
    axr.set_yticks(list(range(10, 10 + len(theta))))
    axr.set_yticklabels([str(v) for v in theta])
    axr.tick_params(axis='y', direction='out', length=4, pad=2, labelsize=12.5, colors=C_TEXT)
    axr.set_ylabel('Approx. potential temperature (K)', fontsize=11.5, labelpad=3, color=C_TEXT)
    for s in axr.spines.values():
        s.set_visible(False)

    # water vapour axis (bottom, red)
    axw.set_xlim(wv_left, 10)
    axw.xaxis.set_ticks_position('bottom')
    axw.set_xticks(range(2, 11))
    for s in axw.spines.values():
        s.set_visible(False)
    axw.spines['bottom'].set_visible(True)
    axw.spines['bottom'].set_bounds(2, 10)
    axw.spines['bottom'].set_color(C_WV_AX)
    axw.tick_params(axis='x', direction='in', length=7, pad=6, labelsize=12.5, colors=C_WV_AX)
    if sat:
        sy, sv = split(sat)
        axw.plot(sv, sy, color=C_SAT, lw=1.2, zorder=2)
    wy, wv_v = split(wv)
    axw.plot(wv_v, wy, color=C_WV, lw=wv_lw, zorder=4)
    cy, cv = split(clim)
    axw.plot(cv, cy, color=C_WV, lw=2.2, ls=(0, (1, 1.4)), zorder=4)
    axw.text(wvmr_xy[0], wvmr_xy[1], 'WVMR (ppmv)', ha='center', va='center', fontsize=11.5,
             color=C_WV_AX)

    # backscatter ratio axis (log, purple, below)
    axb.set_xscale('log')
    axb.set_xlim(1, 200)
    axb.xaxis.set_ticks_position('bottom')
    for s in axb.spines.values():
        s.set_visible(False)
    axb.spines['bottom'].set_visible(True)
    axb.spines['bottom'].set_position(('outward', bsr_off))
    axb.spines['bottom'].set_color(C_BSR_AX)
    axb.set_xticks([1, 10, 100], labels=['1', '10', '100'])
    minor_pos = [d for d in range(2, 10)] + [d * 10 for d in range(2, 10)] + [200]
    minor_lab = [str(d) if d in digits else '' for d in range(2, 10)] * 2 + ['2']
    axb.set_xticks(minor_pos, labels=minor_lab, minor=True)
    axb.tick_params(axis='x', which='major', direction='in', length=8, pad=11, labelsize=12,
                    colors=C_BSR_AX)
    axb.tick_params(axis='x', which='minor', direction='in', length=4, pad=2.5, labelsize=7.5,
                    colors=C_BSR_AX)
    by, bv = split(bsr)
    axb.plot(bv, by, color=C_BSR, lw=2, zorder=3)
    axb.annotate('BSR 870 nm', xy=(bsr_lab_x, 0), xycoords='axes fraction',
                 xytext=(0, -bsr_off - 20), textcoords='offset points',
                 ha='center', va='center', fontsize=12, color=C_BSR_AX)
    return axb


fig = plt.figure(figsize=(12.53, 17.5), dpi=100)
fig.patch.set_facecolor('white')

T_ALL = [180, 185, 190, 195, 200, 205, 210, 215]
T_NO180 = [185, 190, 195, 200, 205, 210, 215]
D8 = [2, 3, 4, 5, 6, 7, 8]
D9 = [2, 3, 4, 5, 6, 7, 8, 9]

axb1 = draw_panel(fig, (53, 58, 538, 500), p1_temp, p1_wv, p1_clim, p1_sat, p1_bsr, p1_theta,
                  titles[0], (195.9, 27.0), T_ALL, 0, (4.3, 10.8), 27, 0.222, D8, 3.3)
draw_panel(fig, (711, 53, 1188, 503), p2_temp, p2_wv, p2_clim, p2_sat, p2_bsr, p2_theta,
           titles[1], (199.4, 27.1), T_NO180, -0.6, (4.13, 10.9), 21.5, 0.246, D8, 3.3)
draw_panel(fig, (56, 631.5, 541, 1090), p3_temp, p3_wv, p3_clim, p3_sat, p3_bsr, p3_theta,
           titles[2], (200.1, 27.2), T_NO180, 0, (4.3, 10.9), 24, 0.195, D9, 3.3)
draw_panel(fig, (717.5, 636, 1191.7, 1093.5), p4_temp, p4_wv, p4_clim, p4_sat, p4_bsr, p4_theta,
           titles[3], (190.7, 27.35), T_ALL, 0, (4.33, 10.75), 24, 0.2, D9, 3.3)
draw_panel(fig, (63.6, 1224, 546.7, 1685), p5_temp, p5_wv, p5_clim, p5_sat, p5_bsr, p5_theta,
           titles[4], (196.3, 26.9), T_NO180, 0, (3.14, 10.7), 22.5, 0.145, D9, 1.8)
draw_panel(fig, (717.5, 1219.6, 1186, 1679), p6_temp, p6_wv, p6_clim, p6_sat, p6_bsr, p6_theta,
           titles[5], (194.4, 27.2), T_ALL, 0, (3.73, 10.8), 21.5, 0.2, D8, 2.2)

# legend of the first panel
h1 = [Line2D([], [], color=C_WV, lw=3), Line2D([], [], color=C_T, lw=3),
      Line2D([], [], color=C_SAT, lw=1.2)]
h2 = [Line2D([], [], color=C_BSR, lw=1.5), Line2D([], [], color=C_WV, lw=2.2, ls=(0, (1, 1.4)))]
leg1 = axb1.legend(h1, ['water vapour', 'temperature', 'sat. mix. ratio'], loc='upper left',
                   bbox_to_anchor=(0.055, 0.918), frameon=False, fontsize=11.5, handlelength=2.2,
                   labelspacing=0.15, borderpad=0, handletextpad=0.6)
axb1.add_artist(leg1)
axb1.legend(h2, ['backscatter ratio', 'climatological WV'], loc='upper left',
            bbox_to_anchor=(0.455, 0.903), frameon=False, fontsize=11.5, handlelength=2.0,
            labelspacing=0.15, borderpad=0, handletextpad=0.6)

fig.savefig('out.png', dpi=100)
